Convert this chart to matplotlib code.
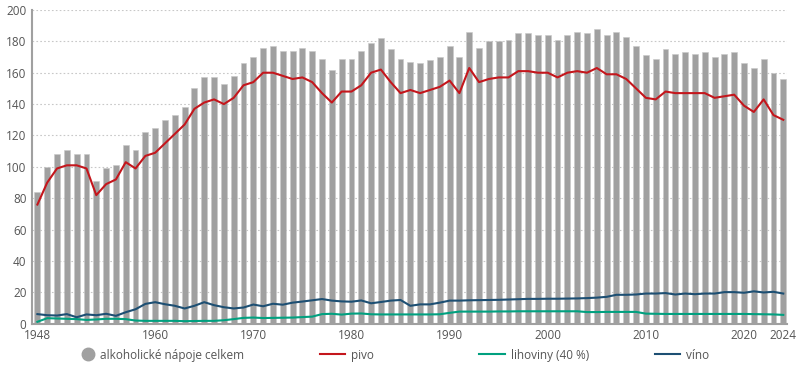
import numpy as np
import matplotlib
matplotlib.use("Agg")
import matplotlib.pyplot as plt
from matplotlib.lines import Line2D

plt.rcParams['font.family'] = ['Open Sans', 'DejaVu Sans']

# Roky 1948-2024
years = list(range(1948, 2025))

# alkoholické nápoje celkem (sloupce)
celkem = [84, 100, 108, 111, 108, 108, 91, 99, 101, 114,
          111, 122, 125, 130, 133, 138, 150, 157, 157, 153,
          158, 166, 170, 176, 177, 174, 174, 176, 174, 169,
          162, 169, 169, 174, 179, 182, 175, 169, 167, 166,
          168, 170, 177, 170, 186, 176, 180, 180, 181, 185,
          185, 184, 184, 181, 184, 186, 185, 188, 184, 186,
          183, 177, 171, 169, 175, 172, 173, 172, 173, 170,
          172, 173, 166, 163, 169, 160, 156]

pivo = [76, 90, 99, 101, 101, 99, 82, 89, 92, 103,
        99, 107, 109, 115, 121, 127, 137, 141, 143, 140,
        144, 152, 154, 160, 160, 158, 156, 157, 154, 147,
        141, 148, 148, 152, 160, 162, 154, 147, 149, 147,
        149, 151, 155, 147, 163, 154, 156, 157, 157, 161,
        161, 160, 160, 157, 160, 161, 160, 163, 159, 159,
        156, 150, 144, 143, 148, 147, 147, 147, 147, 144,
        145, 146, 139, 135, 143, 133, 130]

lihoviny = [1.3, 3.6, 3.4, 3.2, 3.0, 2.5, 2.8, 3.2, 3.2, 3.0,
            2.1, 1.9, 1.9, 1.9, 1.9, 1.7, 1.8, 1.9, 1.9, 2.3,
            3.0, 3.8, 4.0, 3.7, 3.8, 3.9, 4.0, 4.3, 4.6, 6.2,
            6.4, 5.9, 6.5, 6.6, 6.1, 6.0, 6.0, 6.0, 6.0, 6.0,
            6.0, 6.1, 7.0, 7.8, 7.8, 7.8, 7.8, 7.9, 7.9, 8.0,
            8.0, 8.0, 8.0, 8.0, 8.0, 8.0, 7.5, 7.5, 7.6, 7.6,
            7.6, 7.6, 6.5, 6.4, 6.3, 6.3, 6.3, 6.3, 6.3, 6.3,
            6.3, 6.3, 6.3, 6.2, 6.1, 6.0, 5.7]

vino = [6.2, 5.5, 5.3, 6.2, 4.2, 6.0, 5.5, 6.4, 5.1, 7.4,
        9.3, 12.7, 13.8, 12.5, 11.5, 9.8, 11.5, 13.8, 11.9, 10.6,
        9.8, 10.4, 12.3, 11.2, 12.8, 12.2, 13.5, 14.2, 15.0, 15.8,
        14.8, 14.3, 14.1, 14.9, 13.1, 13.9, 14.8, 15.2, 11.5, 12.4,
        12.4, 13.5, 14.8, 14.8, 15.0, 15.1, 15.2, 15.3, 15.5, 15.7,
        15.9, 15.9, 16.0, 16.0, 16.1, 16.2, 16.4, 16.7, 17.2, 18.5,
        18.5, 18.7, 19.3, 19.3, 19.6, 18.7, 19.3, 18.9, 19.3, 19.3,
        20.2, 20.2, 19.8, 20.7, 20.0, 20.4, 19.3]

xticks = [1948, 1960, 1970, 1980, 1990, 2000, 2010, 2020, 2024]

c_bar = '#a0a0a0'
c_pivo = '#c4161c'
c_lih = '#00a07f'
c_vino = '#1d4f73'
c_text = '#555555'

fig = plt.figure(figsize=(8, 3.68), dpi=100)
ax = fig.add_axes([0.04, 0.12, 0.944, 0.853])

ax.bar(years, celkem, width=0.6, color=c_bar, edgecolor='#c8c8c8', linewidth=0.4, zorder=2)
ax.plot(years, pivo, color=c_pivo, lw=1.5, zorder=3)
ax.plot(years, lihoviny, color=c_lih, lw=1.5, zorder=3)
ax.plot(years, vino, color=c_vino, lw=1.5, zorder=3)

ax.set_xlim(1947.45, 2024.4)
ax.set_ylim(0, 200)
ax.set_yticks(range(0, 201, 20))
ax.set_xticks(xticks)
ax.yaxis.grid(True, linestyle=(0, (1.5, 2)), color='#c8c8c8', lw=0.8, zorder=0)
ax.tick_params(length=0, labelsize=8.5, labelcolor=c_text, pad=4)

for s in ['top', 'right']:
    ax.spines[s].set_visible(False)
for s in ['left', 'bottom']:
    ax.spines[s].set_color('#a0a0a0')
    ax.spines[s].set_linewidth(1.5)

# legenda - kazda polozka zvlast
items = [
    (Line2D([], [], marker='o', linestyle='none', markersize=9, color=c_bar),
     'alkoholické nápoje celkem', 82, 1.0),
    (Line2D([], [], color=c_pivo, lw=1.5), 'pivo', 320, 2.1),
    (Line2D([], [], color=c_lih, lw=1.5), 'lihoviny (40 %)', 479, 2.2),
    (Line2D([], [], color=c_vino, lw=1.5), 'víno', 655, 2.1),
]
for h, lab, xpx, hl in items:
    leg = fig.legend([h], [lab], loc='center left', bbox_to_anchor=(xpx / 800, 0.035),
                     frameon=False, fontsize=8.5, borderpad=0, borderaxespad=0,
                     handlelength=hl, handletextpad=0.5)
    for t in leg.get_texts():
        t.set_color(c_text)

fig.savefig('out.png', dpi=100)
